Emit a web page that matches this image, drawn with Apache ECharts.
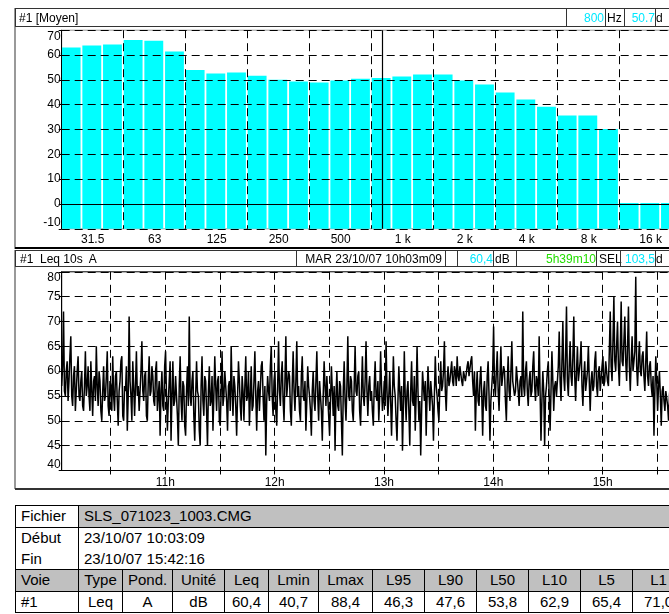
<!DOCTYPE html>
<html>
<head>
<meta charset="utf-8">
<script src="https://cdn.jsdelivr.net/npm/echarts@6/dist/echarts.min.js"></script>
<style>
html,body{margin:0;padding:0;overflow:hidden;background:#fff;width:669px;height:614px;}
#chart{position:absolute;left:0;top:0;width:700px;height:500px;}
.ln{position:absolute;}
.box{position:absolute;border:1px solid #333;box-sizing:border-box;background:transparent;}
.t{position:absolute;font-family:"Liberation Sans",Arial,sans-serif;font-size:12px;white-space:pre;line-height:14px;color:#000;}
.r{text-align:right;}
#tbl{position:absolute;left:15px;top:505px;border-collapse:collapse;table-layout:fixed;font-family:"Liberation Sans",Arial,sans-serif;font-size:15px;}
#tbl td{border:1px solid #000;height:20.7px;padding:0 5px;white-space:nowrap;overflow:hidden;text-align:center;line-height:18px;}
#tbl td.l{text-align:left;}
#tbl td.g{background:#c0c0c0;}
#tbl td.nb{border-bottom:none;}
#tbl td.nt{border-top:none;}
</style>
</head>
<body>
<div id="chart"></div>
<div id="over"></div>
<table id="tbl"></table>
<script>
// ---------------- data ----------------
const bandLabels = ['25','31.5','40','50','63','80','100','125','160','200','250','315','400','500','630','800','1 k','1.25 k','1.6 k','2 k','2.5 k','3.15 k','4 k','5 k','6.3 k','8 k','10 k','12.5 k','16 k','20 k'];
const bandLevels = [63.0,63.8,64.2,66.1,65.7,61.4,54.0,52.6,53.0,51.7,50.0,49.3,48.9,49.7,50.4,50.7,51.3,52.2,52.2,49.7,48.1,44.9,42.1,39.2,35.6,35.6,30.2,0.4,0.4,0.4];
const cursorBand = '800';
const spectrumYTicks = [-10,0,10,20,30,40,50,60,70];
const leqYTicks = [40,45,50,55,60,65,70,75,80];
const leqStart = '10:03:09';
const leqEnd = '15:42:16';
const leqStepSeconds = 30;
const leqValues = [
57,61,72,56,55,60,62,54,58,63,67,55,53,59,61,52,56,60,63,55,
54,58,60,53,52,57,64,55,57,61,55,52,62,56,51,58,59,54,65,57,
53,60,58,52,50,56,61,54,55,59,64,53,51,58,57,52,63,55,52,59,
60,54,49,56,58,62,63,51,50,57,56,61,48,55,71,58,55,50,62,57,
51,57,64,55,57,52,52,60,66,56,54,59,60,51,50,58,63,55,56,61,
59,54,53,60,62,52,55,58,47,56,60,53,52,61,64,55,48,54,58,62,
46,55,62,53,54,59,59,51,45,57,63,54,50,58,57,49,47,56,61,53,
71,55,53,58,60,51,46,55,62,56,55,48,45,57,63,54,51,59,58,52,
45,56,61,53,54,59,48,55,63,57,52,58,59,50,49,56,64,53,55,60,
60,54,48,57,58,52,65,56,51,59,57,53,47,55,62,58,53,50,59,56,
50,57,63,54,55,60,49,55,61,52,53,58,64,55,48,56,58,52,52,61,
62,55,50,57,43,54,59,56,54,61,65,55,51,58,60,52,49,57,66,56,
53,59,62,54,50,58,67,55,55,60,59,52,49,57,64,56,52,58,66,55,
57,52,50,59,63,55,54,58,48,54,61,57,55,52,47,56,60,54,52,58,
64,55,50,58,58,52,46,55,62,57,53,59,59,51,47,54,61,56,51,57,
44,55,60,53,52,58,57,50,43,56,62,54,50,57,67,55,54,59,58,52,
50,57,65,56,55,59,60,52,49,56,63,55,53,58,66,56,51,57,59,54,
56,52,49,57,62,55,54,58,50,55,64,57,52,54,58,53,66,56,51,55,
60,54,47,55,63,57,55,50,46,54,61,56,52,57,44,53,64,55,50,56,
58,52,45,56,62,54,53,59,48,55,65,56,50,54,43,52,60,57,54,58,
47,55,61,56,52,58,58,53,46,55,63,57,55,52,50,57,62,56,57,60,
66,56,52,58,61,57,58,60,62,58,57,61,60,57,63,59,58,61,61,58,
57,60,60,58,58,61,62,59,59,62,63,58,55,60,48,56,60,54,53,58,
61,55,47,56,58,53,52,59,62,55,46,54,57,60,69,57,55,60,64,56,
52,59,65,57,57,61,60,54,50,58,63,56,54,60,66,58,58,55,56,61,
61,56,53,58,59,55,72,57,55,60,62,56,53,58,60,55,56,61,64,57,
54,59,58,55,67,56,46,54,60,56,45,55,57,60,62,55,48,56,64,58,
52,57,58,55,55,61,68,58,54,62,70,59,56,63,73,58,55,61,66,59,
57,63,71,59,54,60,65,58,58,62,66,57,53,59,62,56,56,60,65,58,
52,58,60,56,57,62,64,57,55,60,61,56,56,61,63,57,58,62,62,58,
57,64,72,61,58,66,75,62,60,65,70,61,57,64,74,62,61,66,71,62,
58,65,73,61,56,62,67,60,60,64,79,61,57,62,66,60,59,63,64,59,
56,62,68,59,57,61,62,57,55,59,47,56,63,58,52,57,60,55,49,56,
57,54,52,56,56,53,50,55,58,54,53,57,55,52,51,55,57
];
const topHeaderTitle = '#1 [Moyen]';
const topHeaderFreq = '800';
const topHeaderLevel = '50.7';
const bottomHeaderTitle = '#1  Leq 10s  A';
const bottomHeaderDate = 'MAR 23/10/07 10h03m09';
const bottomHeaderLeq = '60,4';
const bottomHeaderDuration = '5h39m10';
const bottomHeaderSel = '103,5';
const infoRows = [['Fichier','SLS_071023_1003.CMG'],['Début','23/10/07 10:03:09'],['Fin','23/10/07 15:42:16']];
const tableHeaders = ['Voie','Type','Pond.','Unité','Leq','Lmin','Lmax','L95','L90','L50','L10','L5','L1'];
const tableValues = ['#1','Leq','A','dB','60,4','40,7','88,4','46,3','47,6','53,8','62,9','65,4','71,0'];

// ---------------- helpers ----------------
function toHours(s){const p=s.split(':').map(Number);return p[0]+p[1]/60+p[2]/3600;}
const startH = toHours(leqStart), endH = toHours(leqEnd);
const leqData = leqValues.map((v,i)=>[startH + i*leqStepSeconds/3600, v]);
const FONT = '"Liberation Sans", Arial, sans-serif';
const dash = {color:'#000', width:1, type:[8,5]};

const chart = echarts.init(document.getElementById('chart'), null, {renderer:'canvas'});
chart.setOption({
  animation:false,
  textStyle:{fontFamily:FONT},
  grid:[
    {left:61.7, top:30.2, width:620, height:198.6, show:true, borderColor:'#999', borderWidth:1},
    {left:61.7, top:271.8, width:618, height:198.7, show:true, borderColor:'#000', borderWidth:1}
  ],
  xAxis:[
    {type:'category', gridIndex:0, data:bandLabels, boundaryGap:true, z:5,
     axisLine:{lineStyle:{color:'#000', width:1}}, axisTick:{show:false},
     axisLabel:{interval:(i)=>i%3===1, color:'#000', fontSize:12, margin:5, fontFamily:FONT},
     splitLine:{show:true, interval:(i)=>i%3===0 && i>0, lineStyle:dash}},
    {type:'value', gridIndex:1, min:startH, max:endH, splitNumber:11, minInterval:0.5, maxInterval:0.5, z:5,
     axisLine:{lineStyle:{color:'#000', width:1}}, axisTick:{show:true, length:4, lineStyle:{color:'#000'}},
     axisLabel:{color:'#000', fontSize:12, margin:6, fontFamily:FONT, showMinLabel:false, showMaxLabel:false,
       formatter:(v)=>Math.abs(v-Math.round(v))<1e-6 ? Math.round(v)+'h' : ''},
     splitLine:{show:true, lineStyle:dash}}
  ],
  yAxis:[
    {type:'value', gridIndex:0, min:spectrumYTicks[0], max:spectrumYTicks[spectrumYTicks.length-1], interval:spectrumYTicks[1]-spectrumYTicks[0], z:5,
     axisLine:{show:true, lineStyle:{color:'#000'}}, axisTick:{show:true, length:3, lineStyle:{color:'#000'}},
     axisLabel:{color:'#000', fontSize:12, margin:1, fontFamily:FONT, verticalAlignMaxLabel:'top', verticalAlignMinLabel:'bottom'},
     splitLine:{show:true, lineStyle:dash}},
    {type:'value', gridIndex:1, min:leqYTicks[0], max:leqYTicks[leqYTicks.length-1], interval:leqYTicks[1]-leqYTicks[0], z:5,
     axisLine:{show:true, lineStyle:{color:'#000'}}, axisTick:{show:true, length:3, lineStyle:{color:'#000'}},
     axisLabel:{color:'#000', fontSize:12, margin:1, fontFamily:FONT, verticalAlignMaxLabel:'top', verticalAlignMinLabel:'bottom'},
     splitLine:{show:true, lineStyle:dash}}
  ],
  series:[
    {type:'custom', xAxisIndex:0, yAxisIndex:0, z:2,
     data: bandLevels.map((v,i)=>[i,v]),
     renderItem:(params, api)=>{
       const i = api.value(0), v = api.value(1);
       const top = api.coord([i, v]);
       const bot = api.coord([i, spectrumYTicks[0]]);
       const w = api.size([1,0])[0];
       return {type:'rect', shape:{x:top[0]-w/2, y:top[1], width:w-1.8, height:bot[1]-top[1]}, style:{fill:'#00ffff'}};
     },
     markLine:{silent:true, symbol:'none', animation:false, label:{show:false},
       lineStyle:{color:'#000', type:'solid', width:1.2}, data:[{xAxis:cursorBand}]}
    },
    {type:'line', xAxisIndex:1, yAxisIndex:1, data:leqData, showSymbol:false, symbol:'none', sampling:null,
     lineStyle:{color:'#000', width:1.5}, z:3}
  ]
});

// ---------------- header boxes & frame ----------------
const over = document.getElementById('over');
function el(cls, css, text){const d=document.createElement('div');d.className=cls;Object.assign(d.style,css);if(text!==undefined)d.textContent=text;over.appendChild(d);return d;}
// frame
el('ln',{left:'14px',top:'8px',width:'2px',height:'241px',background:'#999'});
el('ln',{left:'14px',top:'250px',width:'2px',height:'239px',background:'#999'});
el('ln',{left:'15px',top:'247px',width:'660px',height:'2px',background:'#000'});
el('ln',{left:'15px',top:'488px',width:'660px',height:'1.5px',background:'#333'});
// top header
el('box',{left:'15px',top:'8px',width:'700px',height:'19px'});
el('t',{left:'19px',top:'10.5px'},topHeaderTitle);
el('box',{left:'566px',top:'8px',width:'40px',height:'19px'});
el('t r',{left:'566px',top:'10.5px',width:'38px',color:'#00e8ff'},topHeaderFreq);
el('t',{left:'607px',top:'10.5px'},'Hz');
el('box',{left:'624px',top:'8px',width:'32px',height:'19px'});
el('t r',{left:'624px',top:'10.5px',width:'31px',color:'#00e8ff'},topHeaderLevel);
el('t',{left:'656px',top:'10.5px'},'d');
// bottom header
el('box',{left:'15px',top:'250px',width:'700px',height:'17px'});
el('t',{left:'20px',top:'251.5px'},bottomHeaderTitle);
el('box',{left:'296px',top:'250px',width:'150px',height:'17px'});
el('t r',{left:'296px',top:'251.5px',width:'146px'},bottomHeaderDate);
el('box',{left:'445px',top:'250px',width:'13px',height:'17px'});
el('box',{left:'457px',top:'250px',width:'37px',height:'17px'});
el('t r',{left:'457px',top:'251.5px',width:'36px',color:'#00e8ff'},bottomHeaderLeq);
el('t',{left:'495px',top:'251.5px'},'dB');
el('box',{left:'516px',top:'250px',width:'81px',height:'17px'});
el('t r',{left:'516px',top:'251.5px',width:'80px',color:'#22dd00'},bottomHeaderDuration);
el('t',{left:'599px',top:'251.5px'},'SEL');
el('box',{left:'620px',top:'250px',width:'36px',height:'17px'});
el('t r',{left:'620px',top:'251.5px',width:'35px',color:'#00e8ff'},bottomHeaderSel);
el('t',{left:'656px',top:'251.5px'},'d');

// ---------------- table ----------------
const colW = [63,44,50,52,44,50,54,52,52,52,52,52,52];
const tbl = document.getElementById('tbl');
let html = '<colgroup>' + colW.map(w=>'<col style="width:'+w+'px">').join('') + '</colgroup>';
infoRows.forEach((r,k)=>{
  const c1 = k===1 ? ' nb' : (k===2 ? ' nt' : '');
  const c2 = (k===0 ? ' g' : '') + c1;
  html += '<tr><td class="l'+c1+'">'+r[0]+'</td><td class="l'+c2+'" colspan="'+(colW.length-1)+'">'+r[1]+'</td></tr>';
});
html += '<tr>' + tableHeaders.map((h,i)=>'<td class="g'+(i===0?' l':'')+'">'+h+'</td>').join('') + '</tr>';
html += '<tr>' + tableValues.map((h,i)=>'<td'+(i===0?' class="l"':'')+'>'+h+'</td>').join('') + '</tr>';
tbl.innerHTML = html;
tbl.style.width = colW.reduce((a,b)=>a+b,0)+'px';
</script>
</body>
</html>
